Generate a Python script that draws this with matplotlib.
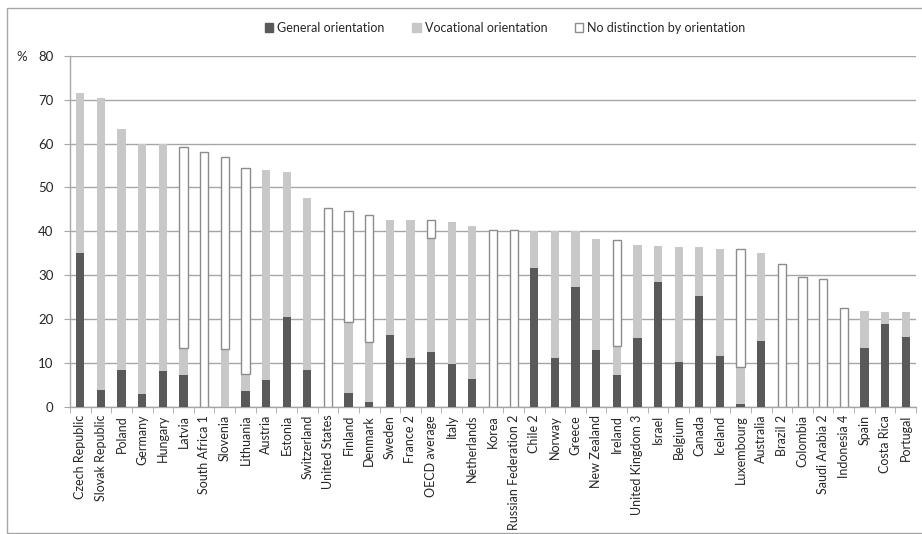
import numpy as np
import matplotlib.pyplot as plt
from matplotlib.patches import Patch, Rectangle

plt.rcParams['font.family'] = ['Lato', 'DejaVu Sans']

countries = ['Czech Republic', 'Slovak Republic', 'Poland', 'Germany', 'Hungary',
             'Latvia', 'South Africa 1', 'Slovenia', 'Lithuania', 'Austria',
             'Estonia', 'Switzerland', 'United States', 'Finland', 'Denmark',
             'Sweden', 'France 2', 'OECD average', 'Italy', 'Netherlands',
             'Korea', 'Russian Federation 2', 'Chile 2', 'Norway', 'Greece',
             'New Zealand', 'Ireland', 'United Kingdom 3', 'Israel', 'Belgium',
             'Canada', 'Iceland', 'Luxembourg', 'Australia', 'Brazil 2',
             'Colombia', 'Saudi Arabia 2', 'Indonesia 4', 'Spain', 'Costa Rica',
             'Portugal']

general = [35.0, 3.8, 8.4, 2.9, 8.2, 7.1, 0, 0, 3.6, 6.0,
           20.5, 8.4, 0, 3.0, 1.1, 16.3, 11.1, 12.5, 9.6, 6.3,
           0, 0, 31.5, 11.1, 27.2, 12.9, 7.1, 15.6, 28.4, 10.2,
           25.2, 11.5, 0.5, 14.9, 0, 0, 0, 0, 13.4, 18.8,
           15.9]

vocational = [36.6, 66.5, 55.0, 57.0, 51.7, 6.2, 0, 13.1, 3.8, 47.9,
              33.0, 39.3, 0, 16.4, 13.6, 26.3, 31.5, 26.0, 32.5, 35.0,
              0, 0, 8.6, 28.9, 12.8, 25.4, 6.8, 21.2, 8.3, 26.3,
              11.1, 24.5, 8.5, 20.2, 0, 0, 0, 0, 8.4, 2.7,
              5.6]

no_distinction = [0, 0, 0, 0, 0, 46.0, 58.2, 43.9, 47.1, 0,
                  0, 0, 45.2, 25.2, 28.9, 0, 0, 4.1, 0, 0,
                  40.3, 40.3, 0, 0, 0, 0, 24.0, 0, 0, 0,
                  0, 0, 27.0, 0, 32.5, 29.5, 29.0, 22.5, 0, 0,
                  0]

c_gen = '#595959'
c_voc = '#c8c8c8'
c_edge = '#8c8c8c'
c_grid = '#a6a6a6'

W, H = 922, 534
fig = plt.figure(figsize=(W / 100, H / 100), dpi=100)
ax = fig.add_axes([70 / W, (H - 406.5) / H, (916 - 70) / W, (406.5 - 56) / H])

x = np.arange(len(countries))
gen = np.array(general)
voc = np.array(vocational)
nod = np.array(no_distinction)

ax.bar(x, gen, width=0.4, color=c_gen, zorder=3)
ax.bar(x, voc, width=0.4, bottom=gen, color=c_voc, zorder=3)
mask = nod > 0
ax.bar(x[mask], nod[mask], width=0.4, bottom=(gen + voc)[mask], color='white',
       edgecolor=c_edge, linewidth=1, zorder=3)

ax.set_xlim(-0.5, len(countries) - 0.5)
ax.set_ylim(0, 80)
ax.set_yticks(range(0, 81, 10))
ax.yaxis.grid(True, color=c_grid, linewidth=1)
ax.set_axisbelow(True)

for s in ['top', 'right']:
    ax.spines[s].set_visible(False)
for s in ['left', 'bottom']:
    ax.spines[s].set_color(c_grid)
    ax.spines[s].set_linewidth(1)

ax.set_xticks(x)
ax.set_xticklabels(countries, rotation=90, fontsize=9, color='#262626')
ax.tick_params(axis='x', which='major', length=0, pad=6)
ax.set_xticks(np.arange(-0.5, len(countries), 1), minor=True)
ax.tick_params(axis='x', which='minor', length=4, color=c_grid, direction='out')
ax.tick_params(axis='y', length=4, color=c_grid, labelsize=9.5,
               labelcolor='#262626', pad=8)

fig.text(22 / W, 1 - 57 / H, '%', fontsize=9.5, color='#262626',
         ha='center', va='center')

handles = [Patch(facecolor=c_gen, edgecolor=c_gen),
           Patch(facecolor=c_voc, edgecolor=c_voc),
           Patch(facecolor='white', edgecolor=c_edge)]
labels = ['General orientation', 'Vocational orientation',
          'No distinction by orientation']
fig.legend(handles, labels, loc='center', bbox_to_anchor=(505 / W, 1 - 28 / H),
           ncol=3, frameon=False, fontsize=9, handlelength=0.7, handleheight=0.7,
           handletextpad=0.3, columnspacing=2.2, labelcolor='#262626')

# chart area border
fig.patches.append(Rectangle((7 / W, 1 - 533 / H), 1, (533 - 8) / H,
                             transform=fig.transFigure, fill=False,
                             edgecolor='#a6a6a6', linewidth=1))

fig.savefig('out.png', dpi=100)
